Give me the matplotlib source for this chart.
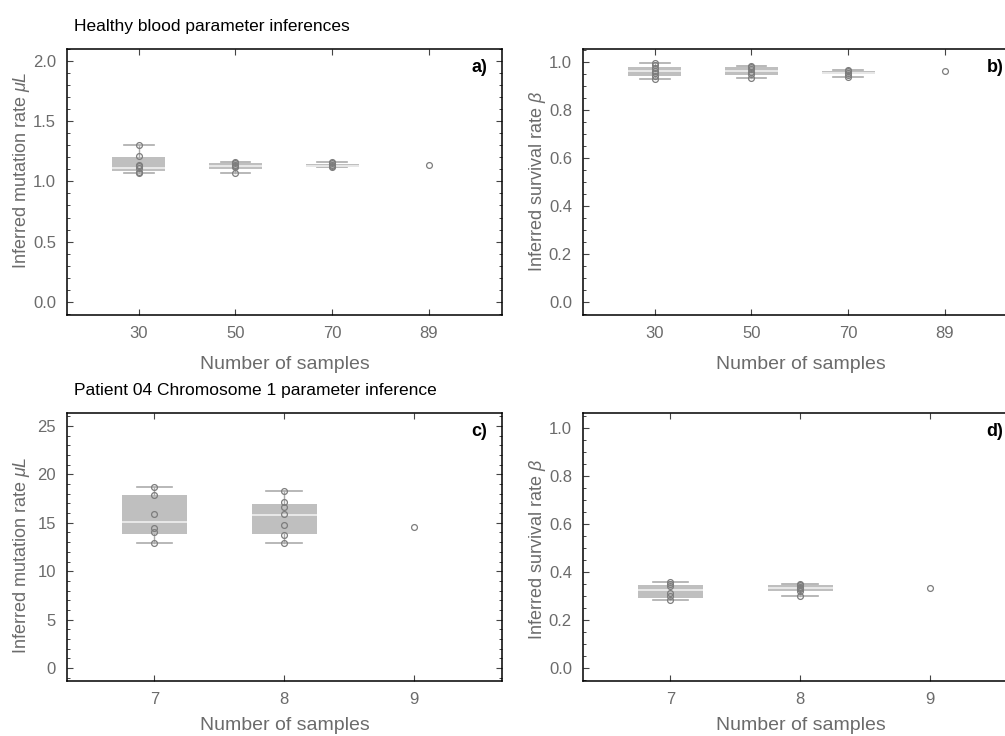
import numpy as np
import matplotlib
matplotlib.use('Agg')
import matplotlib.pyplot as plt
from matplotlib.ticker import MultipleLocator

plt.rcParams['font.family'] = ['Liberation Sans', 'DejaVu Sans']
plt.rcParams['mathtext.fontset'] = 'custom'
plt.rcParams['mathtext.rm'] = 'Liberation Sans'
plt.rcParams['mathtext.it'] = 'Liberation Sans:italic'

GREY_TXT = '#6b6b6b'
BOX_FILL = '#bfbfbf'
MED_COL = '#ececec'
WHISK_COL = '#ababab'
PT_COL = '#7d7d7d'

# healthy blood, sample sizes 30/50/70/89
healthy_labels = ['30', '50', '70', '89']
healthy_mu_pts = [
    [1.30, 1.21, 1.14, 1.125, 1.11, 1.08, 1.07],
    [1.16, 1.15, 1.14, 1.13, 1.12, 1.07],
    [1.16, 1.15, 1.14, 1.13, 1.12],
    [1.14],
]
healthy_mu_q1 = [1.09, 1.105, 1.117]
healthy_mu_med = [1.11, 1.13, 1.13]
healthy_mu_q3 = [1.20, 1.15, 1.145]

healthy_beta_pts = [
    [0.996, 0.988, 0.978, 0.966, 0.955, 0.943, 0.929],
    [0.987, 0.980, 0.972, 0.960, 0.950, 0.937],
    [0.969, 0.963, 0.956, 0.948, 0.940],
    [0.964],
]
healthy_beta_q1 = [0.942, 0.949, 0.950]
healthy_beta_med = [0.966, 0.966, 0.957]
healthy_beta_q3 = [0.982, 0.982, 0.963]

# patient 04 chromosome 1, sample sizes 7/8/9
patient_labels = ['7', '8', '9']
patient_mu_pts = [
    [18.69, 17.9, 15.9, 14.45, 14.0, 12.9],
    [18.28, 17.1, 16.6, 15.9, 14.8, 13.7, 12.9],
    [14.52],
]
patient_mu_q1 = [13.86, 13.86]
patient_mu_med = [15.07, 15.76]
patient_mu_q3 = [17.86, 16.93]

patient_beta_pts = [
    [0.357, 0.349, 0.339, 0.312, 0.298, 0.284],
    [0.349, 0.343, 0.338, 0.333, 0.327, 0.320, 0.300],
    [0.333],
]
patient_beta_q1 = [0.291, 0.320]
patient_beta_med = [0.322, 0.333]
patient_beta_q3 = [0.343, 0.343]


def draw_panel(ax, labels, pts, q1, med, q3, width, xlim, ylim, major, minor,
               ylabel, ylab_y, tag, fmt, xpad):
    stats = []
    for i in range(len(q1)):
        stats.append({'med': med[i], 'q1': q1[i], 'q3': q3[i],
                      'whislo': min(pts[i]), 'whishi': max(pts[i]), 'fliers': []})
    ax.bxp(stats, positions=range(len(q1)), widths=width, patch_artist=True,
           showfliers=False, manage_ticks=False,
           boxprops=dict(facecolor=BOX_FILL, edgecolor=BOX_FILL, linewidth=0),
           medianprops=dict(color=MED_COL, linewidth=1.3),
           whiskerprops=dict(color=WHISK_COL, linewidth=1.0),
           capprops=dict(color=WHISK_COL, linewidth=1.2),
           capwidths=width * 0.55)
    for i, p in enumerate(pts):
        ax.plot(np.full(len(p), i), p, 'o', ms=4.2, mfc='none', mec=PT_COL,
                mew=0.9, zorder=5)
    ax.set_xlim(*xlim)
    ax.set_ylim(*ylim)
    ax.set_xticks(range(len(labels)))
    ax.set_xticklabels(labels)
    ax.yaxis.set_major_locator(MultipleLocator(major))
    ax.yaxis.set_minor_locator(MultipleLocator(minor))
    ax.yaxis.set_major_formatter(fmt)
    ax.tick_params(which='both', direction='in', top=True, right=True,
                   labelsize=12, labelcolor=GREY_TXT, color='#444444')
    ax.tick_params(axis='x', which='minor', bottom=False, top=False)
    ax.tick_params(which='major', length=4.5, width=0.8, pad=8)
    ax.tick_params(which='minor', length=2.5, width=0.7)
    for s in ax.spines.values():
        s.set_linewidth(1.1)
        s.set_color('black')
    ax.set_xlabel('Number of samples', fontsize=14, color=GREY_TXT, labelpad=xpad)
    ax.set_ylabel(ylabel, fontsize=13, color=GREY_TXT)
    ax.yaxis.set_label_coords(-0.08, ylab_y)
    ax.text(0.966, 0.93, tag, transform=ax.transAxes, ha='right', va='center',
            fontsize=13, fontweight='bold')


fig = plt.figure(figsize=(10.05, 7.36), dpi=100)
W, H = 1005, 736
aw = 435 / W
top_b, top_h = (H - 315) / H, 266 / H
bot_b, bot_h = (H - 681) / H, 268 / H

ax_a = fig.add_axes([67 / W, top_b, aw, top_h])
ax_b = fig.add_axes([583 / W, top_b, aw, top_h])
ax_c = fig.add_axes([67 / W, bot_b, aw, bot_h])
ax_d = fig.add_axes([583 / W, bot_b, aw, bot_h])

fmt1 = matplotlib.ticker.FormatStrFormatter('%.1f')
fmt0 = matplotlib.ticker.FormatStrFormatter('%d')

draw_panel(ax_a, healthy_labels, healthy_mu_pts, healthy_mu_q1, healthy_mu_med,
           healthy_mu_q3, 0.55, (-0.745, 3.76), (-0.11, 2.1), 0.5, 0.1,
           r'Inferred mutation rate $\mu L$', 0.545, 'a)', fmt1, 11)
draw_panel(ax_b, healthy_labels, healthy_beta_pts, healthy_beta_q1, healthy_beta_med,
           healthy_beta_q3, 0.55, (-0.745, 3.76), (-0.054, 1.056), 0.2, 0.05,
           r'Inferred survival rate $\beta$', 0.5, 'b)', fmt1, 11)
draw_panel(ax_c, patient_labels, patient_mu_pts, patient_mu_q1, patient_mu_med,
           patient_mu_q3, 0.5, (-0.674, 2.68), (-1.35, 26.35), 5, 1,
           r'Inferred mutation rate $\mu L$', 0.47, 'c)', fmt0, 7)
draw_panel(ax_d, patient_labels, patient_beta_pts, patient_beta_q1, patient_beta_med,
           patient_beta_q3, 0.5, (-0.674, 2.68), (-0.056, 1.063), 0.2, 0.05,
           r'Inferred survival rate $\beta$', 0.49, 'd)', fmt1, 7)

fig.text(74 / W, 1 - 27 / H, 'Healthy blood parameter inferences',
         fontsize=12.5, va='center', ha='left')
fig.text(74 / W, 1 - 391 / H, 'Patient 04 Chromosome 1 parameter inference',
         fontsize=12.5, va='center', ha='left')

fig.savefig('out.png', dpi=100)
